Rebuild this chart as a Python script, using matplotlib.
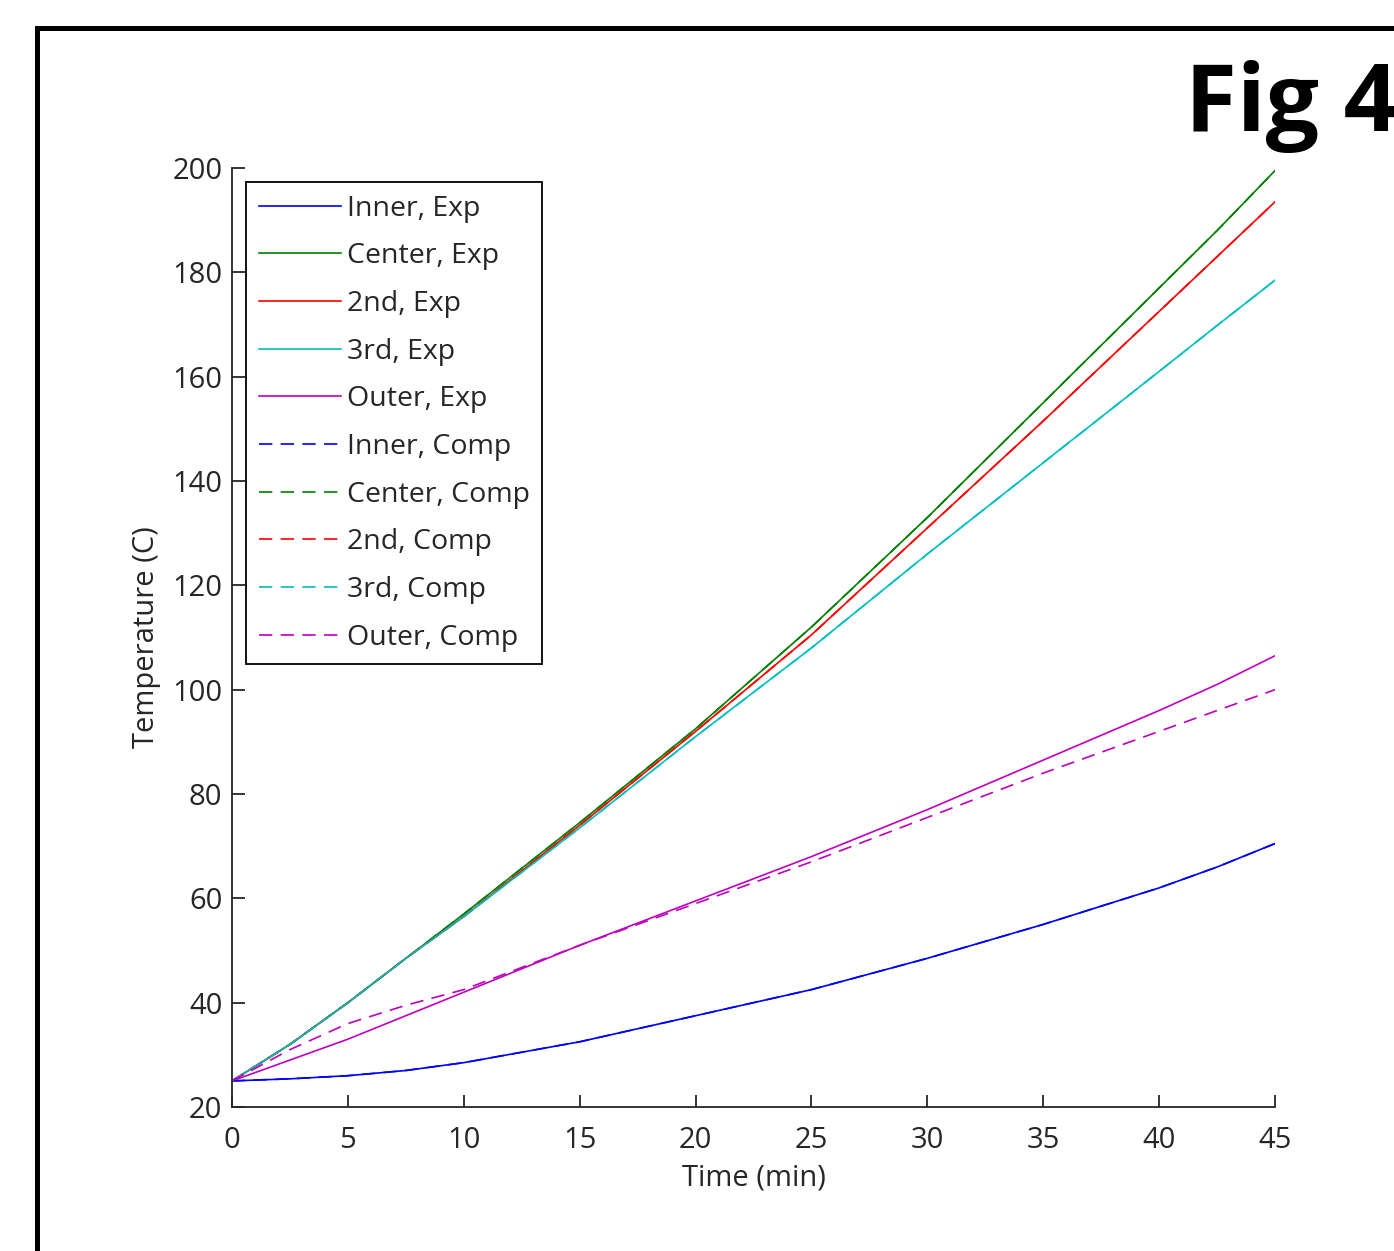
import numpy as np
import matplotlib
matplotlib.use("Agg")
import matplotlib.pyplot as plt
from matplotlib.patches import Rectangle

# time axis (min) and temperatures (C)
time = [0, 2.5, 5, 7.5, 10, 15, 20, 25, 30, 35, 40, 42.5, 45]

center_exp = [25, 32, 40, 48.5, 57, 74.5, 92.5, 112, 133, 155, 177, 188, 199.5]
second_exp = [25, 32, 40, 48.5, 56.5, 74, 92, 110.5, 131, 151.5, 172.5, 183, 193.5]
third_exp = [25, 32, 40, 48.5, 56.5, 73.5, 91, 108, 126, 143.5, 161, 169.8, 178.5]
outer_exp = [25, 29, 33, 37.5, 42, 51, 59.5, 68, 77, 86.5, 96, 101, 106.5]
inner_exp = [25, 25.4, 26, 27, 28.5, 32.5, 37.5, 42.5, 48.5, 55, 62, 66, 70.5]

center_comp = [25, 32, 40, 48.5, 57, 74.5, 92.5, 112, 133, 155, 177, 188, 199.5]
second_comp = [25, 32, 40, 48.5, 56.5, 74, 92, 110.5, 131, 151.5, 172.5, 183, 193.5]
third_comp = [25, 32, 40, 48.5, 56.5, 73.5, 91, 108, 126, 143.5, 161, 169.8, 178.5]
outer_comp = [25, 31, 36, 39.5, 42.5, 51, 59, 67, 75.5, 84, 92, 96, 100]
inner_comp = [25, 25.4, 26, 27, 28.5, 32.5, 37.5, 42.5, 48.5, 55, 62, 66, 70.5]

labels = ["Inner, Exp", "Center, Exp", "2nd, Exp", "3rd, Exp", "Outer, Exp",
          "Inner, Comp", "Center, Comp", "2nd, Comp", "3rd, Comp", "Outer, Comp"]
colors = ["#0000ff", "#008000", "#ff0000", "#00bfbf", "#bf00bf"]

plt.rcParams["font.family"] = ["Open Sans", "DejaVu Sans"]
txt = "#262626"

fig = plt.figure(figsize=(13.94, 12.51), dpi=100)
ax = fig.add_axes([232 / 1394, 1 - 1107 / 1251, (1275 - 232) / 1394, (1107 - 168) / 1251])

exp_data = [inner_exp, center_exp, second_exp, third_exp, outer_exp]
comp_data = [inner_comp, center_comp, second_comp, third_comp, outer_comp]
for y, c, lab in zip(exp_data, colors, labels[:5]):
    ax.plot(time, y, color=c, lw=1.2, label=lab)
for y, c, lab in zip(comp_data, colors, labels[5:]):
    ax.plot(time, y, color=c, lw=1.2, ls=(0, (8, 5)), label=lab)

ax.set_xlim(0, 45)
ax.set_ylim(20, 200)
ax.set_xticks(np.arange(0, 46, 5))
ax.set_yticks(np.arange(20, 201, 20))
ax.spines["top"].set_visible(False)
ax.spines["right"].set_visible(False)
for s in ["left", "bottom"]:
    ax.spines[s].set_color(txt)
    ax.spines[s].set_linewidth(1.3)
ax.tick_params(direction="in", length=9, width=1.3, colors=txt, labelsize=21)
ax.tick_params(axis="x", pad=14)
ax.tick_params(axis="y", pad=7)
ax.set_xlabel("Time (min)", fontsize=21, color=txt, labelpad=6)
ax.set_ylabel("Temperature (C)", fontsize=21, color=txt, labelpad=8)

leg = ax.legend(loc="upper left", bbox_to_anchor=((246 - 232) / 1043, (1107 - 182) / 939),
                borderaxespad=0, fontsize=20.5, handlelength=2.9, handletextpad=0.18,
                labelspacing=0.69, fancybox=False, framealpha=1, borderpad=0.45)
leg.get_frame().set_edgecolor("black")
leg.get_frame().set_linewidth(1.3)
for t in leg.get_texts():
    t.set_color(txt)

# outer frame and figure tag
fig.patches.append(Rectangle((37 / 1394, -0.05), 1.2, 1 - 28 / 1251 + 0.05,
                             transform=fig.transFigure, fill=False, lw=3.6,
                             edgecolor="black", clip_on=False))
fig.text(1185 / 1394, 1 - 131 / 1251, "Fig 4", fontsize=68, fontweight="bold",
         color="black", ha="left", va="baseline")

fig.savefig("out.png", dpi=100)
